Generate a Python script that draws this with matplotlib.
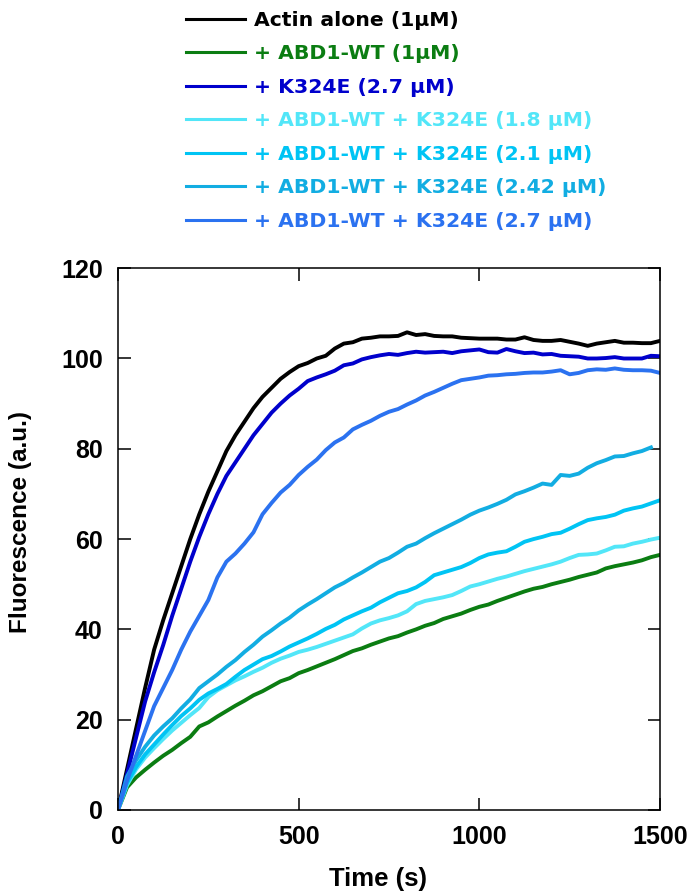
import numpy as np
import matplotlib
matplotlib.use("Agg")
import matplotlib.pyplot as plt

plt.rcParams['font.family'] = ['Liberation Sans', 'DejaVu Sans']
plt.rcParams['font.weight'] = 'bold'

# Time points (s)
time = list(range(0, 1501, 25))
time_242 = list(range(0, 1476, 25))

actin_alone = [0, 9, 18, 27, 35.5, 42, 48, 54, 60, 65.5, 70.5, 75, 79.5, 83, 86, 89, 91.5, 93.5,
               95.5, 97, 98.3, 99, 100, 100.6, 102.2, 103.3, 103.6, 104.4, 104.6, 104.9, 104.9,
               105, 105.8, 105.2, 105.4, 105, 104.9, 104.9, 104.6, 104.5, 104.4, 104.4, 104.4,
               104.2, 104.2, 104.7, 104.1, 103.9, 103.9, 104.1, 103.7, 103.3, 102.8, 103.3,
               103.6, 103.9, 103.5, 103.5, 103.4, 103.4, 103.9]

abd1_wt = [0, 5, 7.2, 8.9, 10.5, 12, 13.3, 14.8, 16.2, 18.5, 19.4, 20.7, 21.9, 23.1, 24.2, 25.4,
           26.3, 27.4, 28.5, 29.2, 30.3, 31, 31.8, 32.6, 33.4, 34.3, 35.2, 35.8, 36.6, 37.3, 38,
           38.5, 39.3, 40, 40.8, 41.4, 42.3, 42.9, 43.5, 44.3, 45, 45.5, 46.3, 47, 47.7, 48.4, 49,
           49.4, 50, 50.5, 51, 51.6, 52.1, 52.6, 53.5, 54, 54.4, 54.8, 55.3, 56, 56.5]

k324e = [0, 8, 16, 24, 30.5, 36.5, 43, 49, 55, 60.5, 65.5, 70, 74, 77, 80, 83, 85.5, 88, 90, 91.8,
         93.3, 95, 95.8, 96.5, 97.3, 98.5, 98.9, 99.8, 100.3, 100.7, 101, 100.8, 101.2, 101.5,
         101.3, 101.4, 101.5, 101.2, 101.6, 101.8, 102, 101.4, 101.3, 102.1, 101.6, 101.2, 101.3,
         100.9, 101, 100.6, 100.5, 100.4, 100, 100, 100.1, 100.3, 100, 100, 100, 100.6, 100.5]

mix_18 = [0, 5.5, 9, 11.6, 13.7, 15.7, 17.6, 19.3, 21, 22.6, 25, 26.5, 27.6, 28.7, 29.6, 30.6, 31.5,
          32.6, 33.5, 34.2, 35, 35.5, 36.1, 36.8, 37.5, 38.2, 38.9, 40.2, 41.3, 42, 42.5, 43.1, 44,
          45.6, 46.3, 46.7, 47.1, 47.6, 48.5, 49.5, 50, 50.6, 51.2, 51.7, 52.3, 52.9, 53.4, 53.9,
          54.4, 55, 55.8, 56.5, 56.6, 56.8, 57.5, 58.3, 58.4, 59, 59.4, 59.9, 60.3]

mix_21 = [0, 6, 9.5, 12.3, 14.5, 16.7, 18.8, 20.8, 22.5, 24.4, 25.8, 26.8, 27.9, 29.5, 31, 32.2,
          33.4, 34.1, 35.1, 36.2, 37.1, 38, 39, 40.1, 41, 42.2, 43.1, 44, 44.8, 46, 47, 48, 48.5,
          49.3, 50.5, 52, 52.6, 53.2, 53.8, 54.7, 55.8, 56.6, 57, 57.3, 58.3, 59.4, 60, 60.5, 61.1,
          61.4, 62.3, 63.3, 64.2, 64.6, 64.9, 65.4, 66.3, 66.8, 67.2, 67.9, 68.6]

mix_242 = [0, 7.4, 11, 14, 16.5, 18.5, 20.3, 22.5, 24.5, 27, 28.5, 30, 31.7, 33.2, 35, 36.6, 38.4,
           39.8, 41.3, 42.6, 44.2, 45.5, 46.7, 48, 49.3, 50.3, 51.5, 52.6, 53.8, 55, 55.8, 57,
           58.3, 59, 60.2, 61.3, 62.3, 63.3, 64.3, 65.4, 66.3, 67, 67.8, 68.7, 69.9, 70.6, 71.4,
           72.3, 72, 74.2, 74, 74.5, 75.8, 76.8, 77.5, 78.3, 78.4, 79, 79.5, 80.3]

mix_27 = [0, 6.5, 12, 17.5, 23, 27, 31, 35.5, 39.5, 43, 46.5, 51.5, 55, 56.8, 59, 61.5, 65.5, 68,
          70.3, 72, 74.2, 76, 77.6, 79.7, 81.4, 82.5, 84.3, 85.3, 86.2, 87.3, 88.2, 88.8, 89.8,
          90.7, 91.8, 92.6, 93.5, 94.4, 95.2, 95.5, 95.8, 96.2, 96.3, 96.5, 96.6, 96.8, 96.9, 96.9,
          97.1, 97.4, 96.5, 96.8, 97.4, 97.6, 97.5, 97.8, 97.5, 97.4, 97.4, 97.3, 96.8]

labels = ["Actin alone (1\u03bcM)",
          "+ ABD1-WT (1\u03bcM)",
          "+ K324E (2.7 \u03bcM)",
          "+ ABD1-WT + K324E (1.8 \u03bcM)",
          "+ ABD1-WT + K324E (2.1 \u03bcM)",
          "+ ABD1-WT + K324E (2.42 \u03bcM)",
          "+ ABD1-WT + K324E (2.7 \u03bcM)"]
colors = ["#000000", "#0b7d12", "#0000cc", "#52e6f8", "#00c4f4", "#12ade2", "#2b72f0"]

series = [(time, actin_alone), (time, abd1_wt), (time, k324e), (time, mix_18),
          (time, mix_21), (time_242, mix_242), (time, mix_27)]

fig = plt.figure(figsize=(6.9, 8.94), dpi=100)
ax = fig.add_axes([0.171, 0.094, 0.7855, 0.606])

handles = []
for (t, v), c, lab in zip(series, colors, labels):
    h, = ax.plot(t, v, color=c, lw=2.8, label=lab, solid_joinstyle='round')
    handles.append(h)

ax.set_xlim(0, 1500)
ax.set_ylim(0, 120)
ax.set_xticks([0, 500, 1000, 1500])
ax.set_yticks(range(0, 121, 20))
ax.tick_params(direction='in', length=9, width=1.1, top=True, right=True,
               labelsize=18, pad=11)
for lbl in ax.get_xticklabels() + ax.get_yticklabels():
    lbl.set_fontweight('bold')
for s in ax.spines.values():
    s.set_linewidth(1.1)

ax.set_xlabel("Time (s)", fontsize=18.5, fontweight='bold')
ax.xaxis.set_label_coords(0.479, -0.106)
ax.set_ylabel("Fluorescence (a.u.)", fontsize=17.5, fontweight='bold')
ax.yaxis.set_label_coords(-0.158, 0.531)

leg = fig.legend(handles=handles, loc='upper left', bbox_to_anchor=(0.258, 0.997),
                 frameon=False, prop={'family': 'DejaVu Sans', 'weight': 'bold', 'size': 14.7},
                 handlelength=2.9, handletextpad=0.4, labelspacing=0.71, borderaxespad=0)
for txt, c in zip(leg.get_texts(), colors):
    txt.set_color(c)
for lh in leg.get_lines():
    lh.set_linewidth(2.2)

fig.savefig("out.png", dpi=100)
